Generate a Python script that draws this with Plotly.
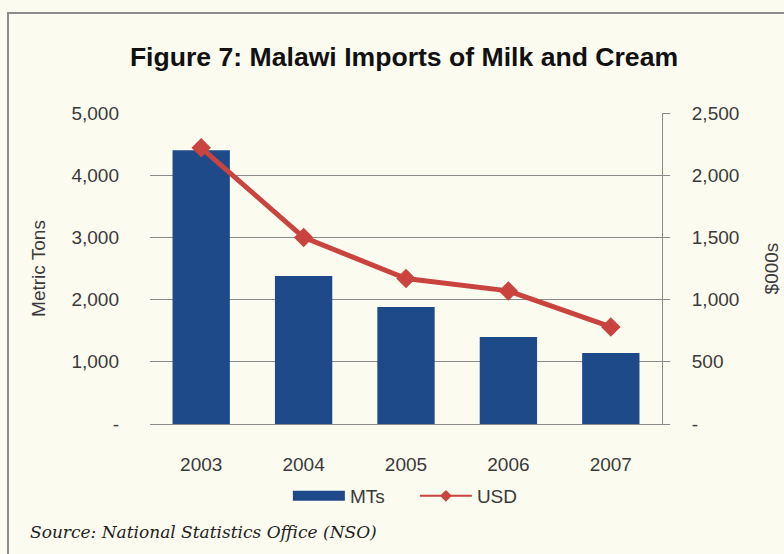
import plotly.graph_objects as go

years = ["2003", "2004", "2005", "2006", "2007"]
mts = [4400, 2380, 1880, 1400, 1140]
usd = [2220, 1500, 1170, 1070, 780]

left_ticks = [0, 1000, 2000, 3000, 4000, 5000]
left_text = ["-", "1,000", "2,000", "3,000", "4,000", "5,000"]
right_ticks = [0, 500, 1000, 1500, 2000, 2500]
right_text = ["-", "500", "1,000", "1,500", "2,000", "2,500"]

W, H = 784, 554
L, R, T, B = 150, 122, 113, 130
pw, ph = W - L - R, H - T - B

def px(x):
    return (x - L) / pw

def py(y):
    return (H - B - y) / ph

bg = "#FCFBEF"
txt = "#3A3A3A"
font = "Liberation Sans, Arial, sans-serif"
blue = "#1F4A8A"
red = "#C9433F"
fs = 19

fig = go.Figure()
fig.add_trace(go.Bar(x=years, y=mts, name="MTs", marker=dict(color=blue, line=dict(width=0)),
                     yaxis="y", showlegend=False))
fig.add_trace(go.Scatter(x=years, y=usd, name="USD", mode="lines+markers", yaxis="y2", showlegend=False,
                         line=dict(color=red, width=5),
                         marker=dict(symbol="diamond", size=15, color=red)))
# legend proxies
fig.add_trace(go.Scatter(x=[None], y=[None], name="MTs", mode="lines", line=dict(color=blue, width=12)))
fig.add_trace(go.Scatter(x=[None], y=[None], name="USD", mode="lines+markers",
                         line=dict(color=red, width=2), marker=dict(symbol="diamond", size=9, color=red)))

fig.update_layout(
    width=W, height=H,
    margin=dict(l=L, r=R, t=T, b=B, autoexpand=False),
    paper_bgcolor=bg, plot_bgcolor=bg,
    font=dict(family=font, size=fs, color=txt),
    title=dict(text="<b>Figure 7: Malawi Imports of Milk and Cream</b>", x=404 / W, xanchor="center",
               y=1 - 57 / H, yanchor="middle", font=dict(size=26.6, color="#111111")),
    bargap=0.44,
    showlegend=True,
    legend=dict(orientation="h", x=px(293) - 0.01, xanchor="left", y=py(496), yanchor="middle", itemwidth=52,
                entrywidth=60, bgcolor="rgba(0,0,0,0)", font=dict(size=fs, color=txt)),
    xaxis=dict(type="category", range=[-0.5, 4.5], showgrid=False, showline=True, linecolor="#8A8A8A",
               linewidth=1, ticks="", ticklabelstandoff=23, tickfont=dict(size=fs, color=txt),
               automargin=False),
    yaxis=dict(range=[0, 5000], tickvals=left_ticks, ticktext=left_text, showgrid=True,
               gridcolor="#8A8A8A", gridwidth=1, zeroline=False, showline=False, ticks="",
               ticklabelstandoff=30, tickfont=dict(size=fs, color=txt), automargin=False,
               title=dict(text="Metric Tons", standoff=20, font=dict(size=fs, color=txt))),
    yaxis2=dict(range=[0, 2500], tickvals=right_ticks, ticktext=right_text, overlaying="y", side="right",
                showgrid=False, zeroline=False, showline=True, linecolor="#8A8A8A", linewidth=1,
                ticks="outside", ticklen=7, tickcolor="#8A8A8A", ticklabelstandoff=18,
                tickfont=dict(size=fs, color=txt), automargin=False,
                title=dict(text="$000s", standoff=26, font=dict(size=fs, color=txt))),
    annotations=[dict(text="<i>Source: National Statistics Office (NSO)</i>", xref="paper", yref="paper",
                      x=px(28), y=py(532), xanchor="left", yanchor="middle", showarrow=False,
                      font=dict(family="DejaVu Serif, serif", size=17, color="#222222"))],
    shapes=[dict(type="rect", xref="paper", yref="paper", x0=px(8), x1=px(800), y0=py(560), y1=py(13),
                 line=dict(color="#8C8C8C", width=2), fillcolor="rgba(0,0,0,0)", layer="below")],
)

fig.write_html("out.html")
